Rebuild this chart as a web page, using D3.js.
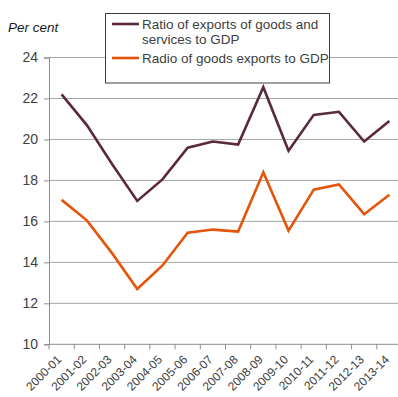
<!DOCTYPE html>
<html>
<head>
<meta charset="utf-8">
<script src="https://cdn.jsdelivr.net/npm/d3@7/dist/d3.min.js"></script>
<style>
  html, body { margin: 0; padding: 0; background: #fff; }
  svg { display: block; font-family: "Liberation Sans", Arial, sans-serif; }
</style>
</head>
<body>
<svg id="chart" width="398" height="397"></svg>
<script>
// Financial years
const years = ["2000-01","2001-02","2002-03","2003-04","2004-05","2005-06","2006-07",
               "2007-08","2008-09","2009-10","2010-11","2011-12","2012-13","2013-14"];
// Ratio of exports of goods and services to GDP (per cent)
const goodsServices = [22.2, 20.7, 18.8, 17.0, 18.05, 19.6, 19.9, 19.75, 22.55, 19.45, 21.2, 21.35, 19.9, 20.9];
// Ratio of goods exports to GDP (per cent)
const goodsOnly = [17.05, 16.05, 14.45, 12.7, 13.85, 15.45, 15.6, 15.5, 18.4, 15.55, 17.55, 17.8, 16.35, 17.3];
const yTicks = [10, 12, 14, 16, 18, 20, 22, 24];
const seriesNames = ["Ratio of exports of goods and services to GDP", "Radio of goods exports to GDP"];
const colors = ["#5a2a3c", "#e4540a"];

const svg = d3.select("#chart");
const plotLeft = 49, plotRight = 402, plotTop = 57.5, plotBottom = 344.3;

const x = d3.scaleBand().domain(years).range([plotLeft, plotRight]);
const y = d3.scaleLinear().domain([10, 24]).range([plotBottom, plotTop]);

// Horizontal gridlines
svg.append("g")
  .selectAll("line")
  .data(yTicks.filter(t => t > 10))
  .join("line")
  .attr("x1", plotLeft).attr("x2", plotRight)
  .attr("y1", d => y(d)).attr("y2", d => y(d))
  .attr("stroke", "#a6a6a6").attr("stroke-width", 1);

// Y axis
const yAxis = svg.append("g")
  .attr("transform", `translate(${plotLeft},0)`)
  .call(d3.axisLeft(y).tickValues(yTicks).tickSize(5).tickPadding(6).tickFormat(d3.format("d")));
yAxis.select(".domain").attr("stroke", "#8c8c8c");
yAxis.selectAll(".tick line").attr("stroke", "#8c8c8c");
yAxis.selectAll(".tick text").attr("fill", "#404040").style("font-size", "14px");

// X axis with boundary ticks
const xAxisG = svg.append("g").attr("transform", `translate(0,${plotBottom})`);
xAxisG.append("line")
  .attr("x1", plotLeft).attr("x2", plotRight).attr("y1", 0).attr("y2", 0)
  .attr("stroke", "#8c8c8c");
xAxisG.selectAll("line.tk")
  .data(years)
  .join("line").attr("class", "tk")
  .attr("x1", d => x(d)).attr("x2", d => x(d))
  .attr("y1", 0).attr("y2", 5)
  .attr("stroke", "#8c8c8c");
xAxisG.selectAll("text")
  .data(years)
  .join("text")
  .attr("transform", d => `translate(${x(d) + x.bandwidth() / 2 + 0.5},${16}) rotate(-45)`)
  .attr("text-anchor", "end")
  .attr("fill", "#404040")
  .style("font-size", "12px")
  .text(d => d);

// Lines
const line = d3.line()
  .x((d, i) => x(years[i]) + x.bandwidth() / 2)
  .y(d => y(d));
[goodsServices, goodsOnly].forEach((vals, k) => {
  svg.append("path")
    .datum(vals)
    .attr("d", line)
    .attr("fill", "none")
    .attr("stroke", colors[k])
    .attr("stroke-width", 2.6)
    .attr("stroke-linejoin", "miter");
});

// Axis title
svg.append("text")
  .attr("x", 8).attr("y", 32)
  .attr("fill", "#1a1a1a")
  .style("font-size", "13.5px")
  .style("font-style", "italic")
  .text("Per cent");

// Legend
const lg = svg.append("g");
lg.append("rect")
  .attr("x", 105.5).attr("y", 13.5).attr("width", 224).attr("height", 69.5)
  .attr("fill", "#fff").attr("stroke", "#404040").attr("stroke-width", 1);
const legendRows = [
  { lines: ["Ratio of exports of goods and", "services to GDP"], y: 24 },
  { lines: ["Radio of goods exports to GDP"], y: 58 }
];
legendRows.forEach((r, k) => {
  lg.append("line")
    .attr("x1", 112).attr("x2", 139).attr("y1", r.y).attr("y2", r.y)
    .attr("stroke", colors[k]).attr("stroke-width", 2.6);
  r.lines.forEach((t, j) => {
    lg.append("text")
      .attr("x", 142).attr("y", r.y + 4.5 + j * 15)
      .attr("fill", "#404040")
      .style("font-size", "13.5px")
      .text(t);
  });
});
</script>
</body>
</html>
